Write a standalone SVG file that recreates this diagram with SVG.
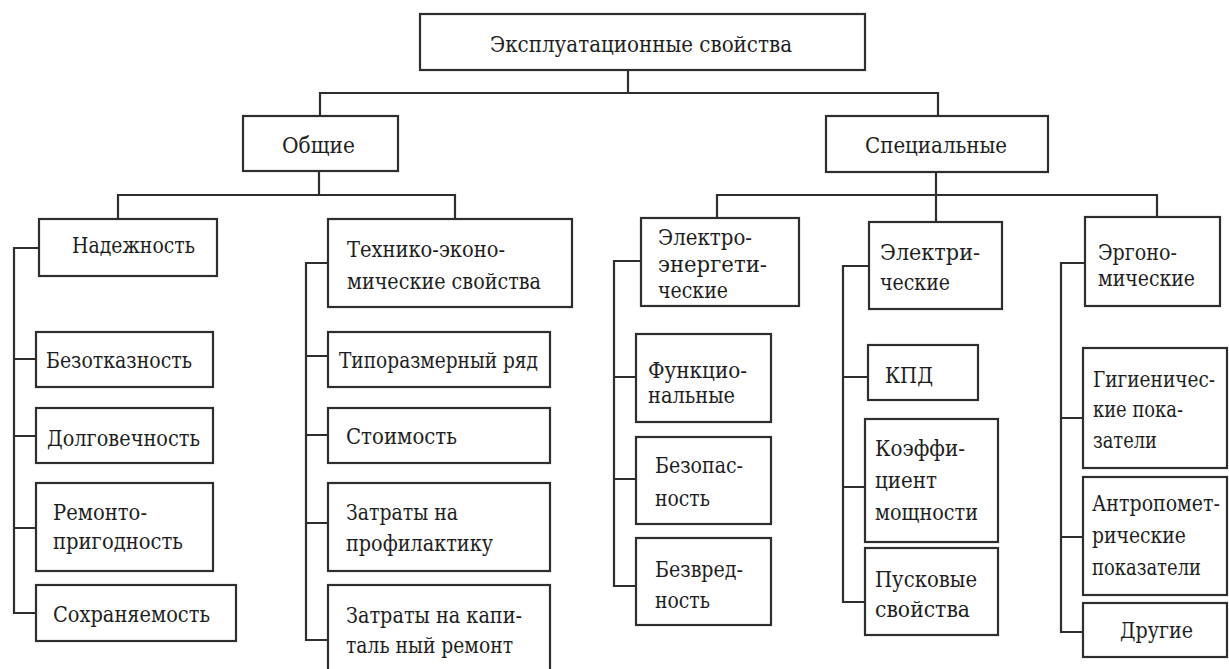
<svg xmlns="http://www.w3.org/2000/svg" width="1229" height="669" viewBox="0 0 1229 669">
  <style>
    .box { fill: #ffffff; stroke: #2e2e2e; stroke-width: 2.2; }
    .wire { fill: none; stroke: #2e2e2e; stroke-width: 2.2; stroke-linecap: square; }
    .t { font-family: "DejaVu Serif", "Liberation Serif", serif; font-size: 23px; fill: #1e1e1e; }
  </style>
  <rect width="1229" height="669" fill="#ffffff"/>

  <!-- connectors -->
  <g id="connectors" class="wire">
    <!-- root to first level -->
    <path d="M628 70 V93 M320 93 H938 M320 93 V116 M938 93 V116"/>
    <!-- general branch -->
    <path d="M319 171 V195 M118 195 H455 M118 195 V219 M455 195 V219"/>
    <!-- special branch -->
    <path d="M936 172 V222 M717 195 H1157 M717 195 V218 M1157 195 V217"/>
    <!-- reliability bus -->
    <path d="M14 248 V613 M14 248 H39 M14 359 H36 M14 436 H36 M14 528 H36 M14 613 H36"/>
    <!-- techno-economic bus -->
    <path d="M306 263 V640 M306 263 H328 M306 356 H328 M306 435 H328 M306 523 H328 M306 640 H328"/>
    <!-- power bus -->
    <path d="M614 261 V586 M614 261 H641 M614 377 H636 M614 479 H636 M614 586 H636"/>
    <!-- electrical bus -->
    <path d="M843 266 V602 M843 266 H869 M843 377 H868 M843 487 H865 M843 602 H865"/>
    <!-- ergonomic bus -->
    <path d="M1061 263 V632 M1061 263 H1085 M1061 418 H1083 M1061 537 H1083 M1061 632 H1083"/>
  </g>

  <!-- root -->
  <g id="n-root">
    <rect class="box" x="420" y="14" width="445" height="56"/>
    <text class="t" x="490" y="52" textLength="302" lengthAdjust="spacingAndGlyphs">Эксплуатационные свойства</text>
  </g>

  <!-- first level -->
  <g id="n-general">
    <rect class="box" x="243" y="116" width="155" height="55"/>
    <text class="t" x="282" y="153" textLength="73" lengthAdjust="spacingAndGlyphs">Общие</text>
  </g>
  <g id="n-special">
    <rect class="box" x="826" y="116" width="222" height="56"/>
    <text class="t" x="865" y="153" textLength="142" lengthAdjust="spacingAndGlyphs">Специальные</text>
  </g>

  <!-- general: reliability -->
  <g id="n-reliability">
    <rect class="box" x="39" y="219" width="178" height="57"/>
    <text class="t" x="72" y="253" textLength="123" lengthAdjust="spacingAndGlyphs">Надежность</text>
  </g>
  <g id="n-failsafe">
    <rect class="box" x="36" y="332" width="177" height="55"/>
    <text class="t" x="46" y="368" textLength="146" lengthAdjust="spacingAndGlyphs">Безотказность</text>
  </g>
  <g id="n-durability">
    <rect class="box" x="36" y="408" width="177" height="55"/>
    <text class="t" x="47" y="446" textLength="153" lengthAdjust="spacingAndGlyphs">Долговечность</text>
  </g>
  <g id="n-repairability">
    <rect class="box" x="36" y="483" width="177" height="88"/>
    <text class="t" x="53" y="520" textLength="94" lengthAdjust="spacingAndGlyphs">Ремонто-</text>
    <text class="t" x="53" y="549" textLength="130" lengthAdjust="spacingAndGlyphs">пригодность</text>
  </g>
  <g id="n-storability">
    <rect class="box" x="36" y="585" width="200" height="56"/>
    <text class="t" x="53" y="622" textLength="157" lengthAdjust="spacingAndGlyphs">Сохраняемость</text>
  </g>

  <!-- general: techno-economic -->
  <g id="n-techeco">
    <rect class="box" x="328" y="219" width="244" height="88"/>
    <text class="t" x="347" y="257" textLength="158" lengthAdjust="spacingAndGlyphs">Технико-эконо-</text>
    <text class="t" x="347" y="289" textLength="194" lengthAdjust="spacingAndGlyphs">мические свойства</text>
  </g>
  <g id="n-sizerange">
    <rect class="box" x="328" y="332" width="222" height="55"/>
    <text class="t" x="339" y="368" textLength="199" lengthAdjust="spacingAndGlyphs">Типоразмерный ряд</text>
  </g>
  <g id="n-cost">
    <rect class="box" x="328" y="408" width="222" height="55"/>
    <text class="t" x="346" y="444" textLength="111" lengthAdjust="spacingAndGlyphs">Стоимость</text>
  </g>
  <g id="n-prevention">
    <rect class="box" x="328" y="483" width="222" height="88"/>
    <text class="t" x="346" y="520" textLength="112" lengthAdjust="spacingAndGlyphs">Затраты на</text>
    <text class="t" x="346" y="551" textLength="147" lengthAdjust="spacingAndGlyphs">профилактику</text>
  </g>
  <g id="n-overhaul">
    <rect class="box" x="328" y="585" width="222" height="100"/>
    <text class="t" x="346" y="623" textLength="176" lengthAdjust="spacingAndGlyphs">Затраты на капи-</text>
    <text class="t" x="346" y="653" textLength="167" lengthAdjust="spacingAndGlyphs">таль ный ремонт</text>
  </g>

  <!-- special: power -->
  <g id="n-power">
    <rect class="box" x="641" y="218" width="158" height="88"/>
    <text class="t" x="658" y="245" textLength="94" lengthAdjust="spacingAndGlyphs">Электро-</text>
    <text class="t" x="658" y="272" textLength="109" lengthAdjust="spacingAndGlyphs">энергети-</text>
    <text class="t" x="658" y="298" textLength="70" lengthAdjust="spacingAndGlyphs">ческие</text>
  </g>
  <g id="n-functional">
    <rect class="box" x="636" y="334" width="135" height="88"/>
    <text class="t" x="648" y="378" textLength="99" lengthAdjust="spacingAndGlyphs">Функцио-</text>
    <text class="t" x="648" y="403" textLength="87" lengthAdjust="spacingAndGlyphs">нальные</text>
  </g>
  <g id="n-safety">
    <rect class="box" x="636" y="437" width="135" height="87"/>
    <text class="t" x="655" y="473" textLength="88" lengthAdjust="spacingAndGlyphs">Безопас-</text>
    <text class="t" x="655" y="506" textLength="55" lengthAdjust="spacingAndGlyphs">ность</text>
  </g>
  <g id="n-harmless">
    <rect class="box" x="636" y="538" width="135" height="87"/>
    <text class="t" x="655" y="577" textLength="88" lengthAdjust="spacingAndGlyphs">Безвред-</text>
    <text class="t" x="655" y="608" textLength="55" lengthAdjust="spacingAndGlyphs">ность</text>
  </g>

  <!-- special: electrical -->
  <g id="n-electrical">
    <rect class="box" x="869" y="222" width="133" height="87"/>
    <text class="t" x="880" y="260" textLength="100" lengthAdjust="spacingAndGlyphs">Электри-</text>
    <text class="t" x="880" y="290" textLength="70" lengthAdjust="spacingAndGlyphs">ческие</text>
  </g>
  <g id="n-efficiency">
    <rect class="box" x="868" y="345" width="110" height="55"/>
    <text class="t" x="885" y="383" textLength="48" lengthAdjust="spacingAndGlyphs">КПД</text>
  </g>
  <g id="n-powerfactor">
    <rect class="box" x="865" y="419" width="133" height="123"/>
    <text class="t" x="875" y="456" textLength="90" lengthAdjust="spacingAndGlyphs">Коэффи-</text>
    <text class="t" x="875" y="488" textLength="62" lengthAdjust="spacingAndGlyphs">циент</text>
    <text class="t" x="875" y="520" textLength="103" lengthAdjust="spacingAndGlyphs">мощности</text>
  </g>
  <g id="n-starting">
    <rect class="box" x="865" y="548" width="133" height="87"/>
    <text class="t" x="875" y="587" textLength="102" lengthAdjust="spacingAndGlyphs">Пусковые</text>
    <text class="t" x="875" y="617" textLength="95" lengthAdjust="spacingAndGlyphs">свойства</text>
  </g>

  <!-- special: ergonomic -->
  <g id="n-ergonomic">
    <rect class="box" x="1085" y="217" width="135" height="89"/>
    <text class="t" x="1098" y="260" textLength="79" lengthAdjust="spacingAndGlyphs">Эргоно-</text>
    <text class="t" x="1098" y="286" textLength="97" lengthAdjust="spacingAndGlyphs">мические</text>
  </g>
  <g id="n-hygiene">
    <rect class="box" x="1083" y="348" width="144" height="120"/>
    <text class="t" x="1093" y="387" textLength="122" lengthAdjust="spacingAndGlyphs">Гигиеничес-</text>
    <text class="t" x="1093" y="417" textLength="90" lengthAdjust="spacingAndGlyphs">кие пока-</text>
    <text class="t" x="1093" y="448" textLength="64" lengthAdjust="spacingAndGlyphs">затели</text>
  </g>
  <g id="n-anthropometric">
    <rect class="box" x="1083" y="477" width="144" height="118"/>
    <text class="t" x="1092" y="511" textLength="128" lengthAdjust="spacingAndGlyphs">Антропомет-</text>
    <text class="t" x="1092" y="543" textLength="94" lengthAdjust="spacingAndGlyphs">рические</text>
    <text class="t" x="1092" y="575" textLength="109" lengthAdjust="spacingAndGlyphs">показатели</text>
  </g>
  <g id="n-other">
    <rect class="box" x="1083" y="603" width="144" height="54"/>
    <text class="t" x="1120" y="638" textLength="73" lengthAdjust="spacingAndGlyphs">Другие</text>
  </g>
</svg>
